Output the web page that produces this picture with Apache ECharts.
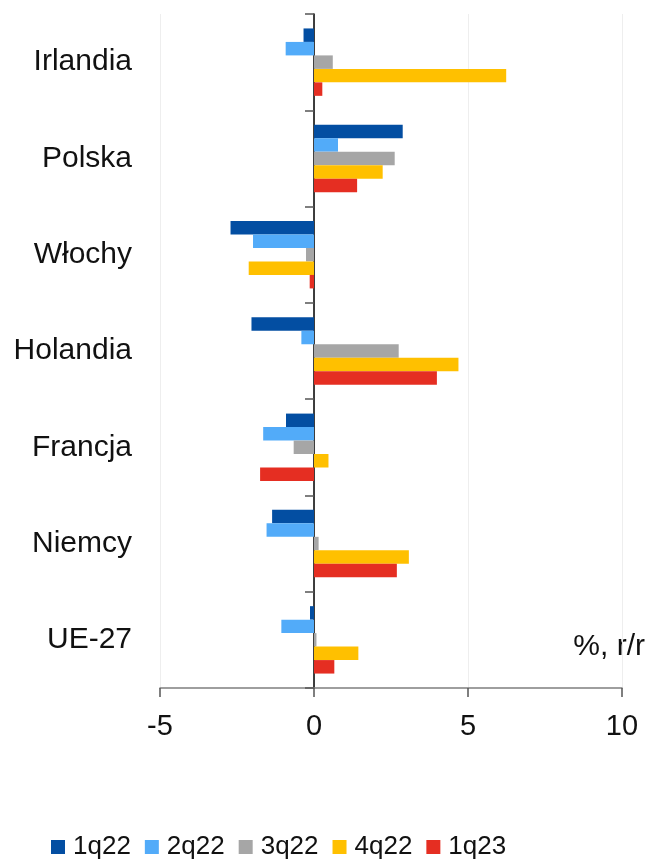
<!DOCTYPE html>
<html>
<head>
<meta charset="utf-8">
<script src="https://cdn.jsdelivr.net/npm/echarts@6/dist/echarts.min.js"></script>
<style>
html,body{margin:0;padding:0;background:#fff;}
#chart{width:653px;height:864px;}
</style>
</head>
<body>
<div id="chart"></div>
<script>
// kraje (od góry)
const countries = ['Irlandia', 'Polska', 'Włochy', 'Holandia', 'Francja', 'Niemcy', 'UE-27'];
const seriesNames = ['1q22', '2q22', '3q22', '4q22', '1q23'];
const colors = ['#034ea2', '#52abf9', '#a6a6a6', '#ffc000', '#e52e22'];
// wartości %, r/r
const q1_22 = [-0.34, 2.88, -2.71, -2.03, -0.91, -1.36, -0.13];
const q2_22 = [-0.92, 0.78, -1.98, -0.41, -1.65, -1.54, -1.06];
const q3_22 = [0.61, 2.62, -0.26, 2.75, -0.66, 0.15, 0.08];
const q4_22 = [6.24, 2.23, -2.12, 4.69, 0.47, 3.08, 1.44];
const q1_23 = [0.27, 1.40, -0.14, 3.99, -1.75, 2.69, 0.66];
const allData = [q1_22, q2_22, q3_22, q4_22, q1_23];

const font = '"Liberation Sans", Arial, sans-serif';
const chart = echarts.init(document.getElementById('chart'));
let series = [];
for (let i = 0; i < seriesNames.length; i++) {
    series.push({
        name: seriesNames[i],
        type: 'bar',
        yAxisIndex: 0,
        data: allData[i],
        barGap: '0%',
        barCategoryGap: '30%',
        itemStyle: {color: colors[i]}
    });
}
option = {
    animation: false,
    backgroundColor: '#fff',
    grid: {left: 160, right: 31, top: 14, bottom: 176, containLabel: false},
    legend: {
        data: seriesNames,
        left: 46,
        top: 829,
        itemWidth: 14,
        itemHeight: 14,
        itemGap: 14,
        icon: 'rect',
        textStyle: {fontFamily: font, fontSize: 26, color: '#111', padding: [0, 0, 0, 3]}
    },
    xAxis: {
        type: 'value',
        min: -5,
        max: 10,
        interval: 5,
        axisLine: {show: true, onZero: false, lineStyle: {color: '#7f7f7f', width: 1.5}},
        axisTick: {show: true, length: 9, lineStyle: {color: '#555', width: 1.5}},
        axisLabel: {fontFamily: font, fontSize: 29, color: '#111', margin: 24},
        splitLine: {show: true, lineStyle: {color: '#eeeeee', width: 1}}
    },
    yAxis: [
        {
            type: 'category',
            data: countries,
            inverse: true,
            position: 'left',
            axisLine: {show: false, onZero: false},
            axisTick: {show: false},
            axisLabel: {fontFamily: font, fontSize: 30, color: '#111', margin: 28}
        },
        {
            type: 'category',
            data: countries,
            inverse: true,
            position: 'left',
            axisLine: {show: true, onZero: true, lineStyle: {color: '#000', width: 1.5}},
            axisTick: {show: true, length: 9, lineStyle: {color: '#555', width: 1.5}},
            axisLabel: {show: false}
        }
    ],
    graphic: [{
        type: 'text',
        right: 8,
        top: 632,
        style: {text: '%, r/r', fontFamily: font, fontSize: 30, fill: '#111'}
    }],
    series: series
};
chart.setOption(option);
</script>
</body>
</html>
